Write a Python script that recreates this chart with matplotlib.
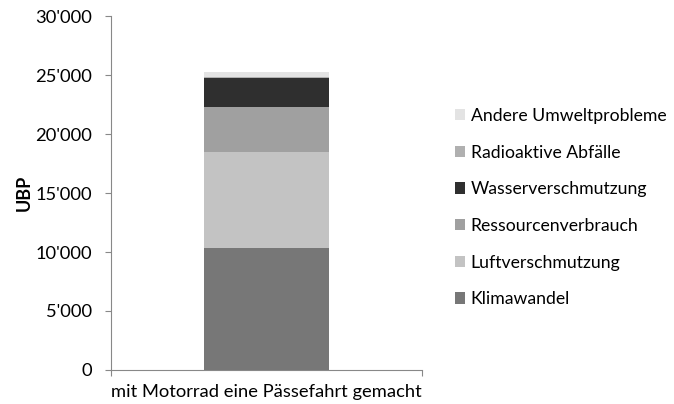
import matplotlib.pyplot as plt
from matplotlib.ticker import FuncFormatter

plt.rcParams['font.family'] = ['Lato', 'DejaVu Sans']

category = "mit Motorrad eine Pässefahrt gemacht"
labels = ["Klimawandel", "Luftverschmutzung", "Ressourcenverbrauch",
          "Wasserverschmutzung", "Radioaktive Abfälle", "Andere Umweltprobleme"]
values = [10300, 8200, 3790, 2460, 90, 420]
colors = ["#777777", "#c3c3c3", "#a0a0a0", "#2f2f2f", "#b0b0b0", "#e3e3e3"]
yticks = [0, 5000, 10000, 15000, 20000, 25000, 30000]

fig = plt.figure(figsize=(6.74, 4.04), dpi=100)
ax = fig.add_axes([0.1647, 0.0842, 0.4614, 0.876])

bottom = 0
handles = []
for lab, val, col in zip(labels, values, colors):
    h = ax.bar(0, val, width=0.4, bottom=bottom, color=col, label=lab)
    handles.append(h)
    bottom += val

ax.set_xlim(-0.5, 0.5)
ax.set_ylim(0, 30000)
ax.set_yticks(yticks)
ax.yaxis.set_major_formatter(FuncFormatter(lambda v, p: f"{int(v):,}".replace(",", "'")))
ax.set_xticks([-0.5, 0.5])
ax.set_xticklabels(["", ""])
ax.set_xticks([0], minor=True)
ax.set_xticklabels([category], minor=True)
ax.tick_params(axis='x', which='minor', length=0, labelsize=13.2, pad=10)
ax.tick_params(axis='x', which='major', length=4.5, color='#888888')
ax.tick_params(axis='y', length=4.5, color='#888888', labelsize=13.2, pad=9)

for s in ['top', 'right']:
    ax.spines[s].set_visible(False)
for s in ['left', 'bottom']:
    ax.spines[s].set_color('#888888')

ax.set_ylabel("UBP", fontweight='bold', fontsize=13, labelpad=2)

fig.legend(handles[::-1], labels[::-1], loc='upper left', bbox_to_anchor=(0.651, 0.772),
           frameon=False, fontsize=12.7, handlelength=0.6, handleheight=0.6,
           handletextpad=0.3, labelspacing=1.17)

fig.savefig("out.png", dpi=100)
